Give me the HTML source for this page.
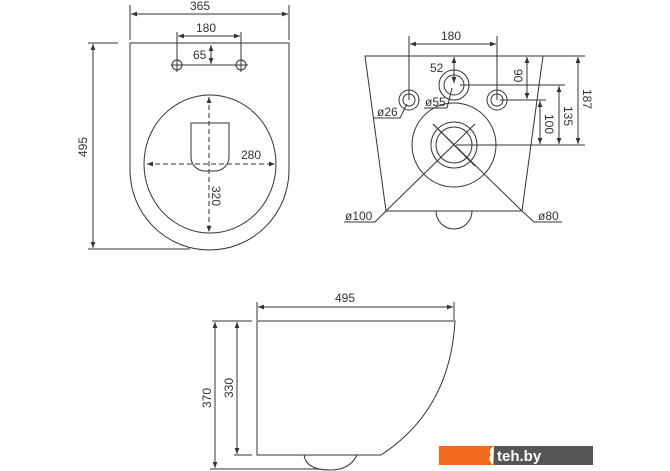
<!DOCTYPE html>
<html><head><meta charset="utf-8"><style>
html,body{margin:0;padding:0;background:#fff;}
svg{display:block;}
text{font-family:"Liberation Sans",sans-serif;font-size:12px;fill:#333;}
</style></head><body>
<svg width="670" height="471" viewBox="0 0 670 471" xmlns="http://www.w3.org/2000/svg">
<defs>
<marker id="a" viewBox="0 0 10 10" refX="10" refY="5" markerWidth="6" markerHeight="6" orient="auto-start-reverse"><path d="M0,1 L10,5 L0,9 z" fill="#333"/></marker>
</defs>
<g stroke="#333" stroke-width="1" fill="none">
<!-- Top view -->
<path d="M130,43 H289 V170 A79.5,80 0 0 1 130,170 Z"/>
<line x1="130" y1="5" x2="130" y2="40"/><line x1="289" y1="5" x2="289" y2="40"/>
<line x1="131" y1="14" x2="288" y2="14" marker-start="url(#a)" marker-end="url(#a)"/>
<line x1="177" y1="32" x2="177" y2="72"/><line x1="241" y1="32" x2="241" y2="72"/>
<line x1="178" y1="36" x2="240" y2="36" marker-start="url(#a)" marker-end="url(#a)"/>
<circle cx="177" cy="65" r="5"/><circle cx="241" cy="65" r="5"/>
<line x1="171" y1="65" x2="248" y2="65"/>
<line x1="211" y1="45" x2="211" y2="64" marker-start="url(#a)" marker-end="url(#a)"/>
<ellipse cx="210" cy="164" rx="66" ry="69"/>
<path d="M191,123 H229 V157 A14,14 0 0 1 215,171 H205 A14,14 0 0 1 191,157 Z"/>
<line x1="147" y1="164" x2="275" y2="164" stroke-dasharray="5,3" marker-start="url(#a)" marker-end="url(#a)"/>
<line x1="209" y1="97" x2="209" y2="232" stroke-dasharray="5,3" marker-start="url(#a)" marker-end="url(#a)"/>
<line x1="88" y1="43" x2="118" y2="43"/><line x1="88" y1="249" x2="190" y2="249"/>
<line x1="93" y1="44" x2="93" y2="248" marker-start="url(#a)" marker-end="url(#a)"/>
<!-- Rear view -->
<path d="M365,56 H543 L522,211 H386 Z"/>
<line x1="409" y1="36" x2="409" y2="100"/><line x1="497" y1="36" x2="497" y2="100"/>
<line x1="410" y1="44" x2="496" y2="44" marker-start="url(#a)" marker-end="url(#a)"/>
<circle cx="409" cy="100" r="10"/><circle cx="409" cy="100" r="6"/>
<circle cx="497" cy="100" r="10"/><circle cx="497" cy="100" r="6"/>
<circle cx="454" cy="85" r="15"/><circle cx="454" cy="85" r="10"/>
<line x1="454" y1="57" x2="454" y2="83" marker-start="url(#a)" marker-end="url(#a)"/>
<path d="M452,88 L447,108 H424"/>
<path d="M407,104 L400,118 H373"/>
<circle cx="454" cy="145" r="42"/><circle cx="454" cy="145" r="23"/><circle cx="454" cy="145" r="18"/>
<line x1="433" y1="124" x2="475" y2="166"/><line x1="475" y1="124" x2="386" y2="211"/>
<line x1="433" y1="124" x2="522" y2="211"/>
<path d="M386,211 L375,222 H344"/><path d="M522,211 L534,222 H562"/>
<path d="M436,211 A18,18 0 0 0 472,211"/>
<line x1="500" y1="100" x2="546" y2="100"/>
<line x1="460" y1="85" x2="565" y2="85"/>
<line x1="456" y1="145" x2="585" y2="145"/>
<line x1="543" y1="56" x2="585" y2="56"/>
<line x1="527" y1="57" x2="527" y2="99" marker-start="url(#a)" marker-end="url(#a)"/>
<line x1="540" y1="101" x2="540" y2="144" marker-start="url(#a)" marker-end="url(#a)"/>
<line x1="559" y1="86" x2="559" y2="144" marker-start="url(#a)" marker-end="url(#a)"/>
<line x1="578" y1="57" x2="578" y2="144" marker-start="url(#a)" marker-end="url(#a)"/>
<!-- Side view -->
<line x1="257" y1="302" x2="257" y2="320"/><line x1="454" y1="302" x2="454" y2="320"/>
<line x1="258" y1="307" x2="453" y2="307" marker-start="url(#a)" marker-end="url(#a)"/>
<path d="M257,321 H455 Q450,410 381,455 H257 Z"/>
<path d="M304,455 Q306,470 330,470 Q350,470 357,455"/>
<line x1="212" y1="321" x2="252" y2="321"/><line x1="234" y1="455" x2="252" y2="455"/>
<line x1="210" y1="469" x2="320" y2="469"/>
<line x1="215" y1="322" x2="215" y2="468" marker-start="url(#a)" marker-end="url(#a)"/>
<line x1="237" y1="322" x2="237" y2="454" marker-start="url(#a)" marker-end="url(#a)"/>
</g>
<text x="190" y="10">365</text>
<text x="196" y="32">180</text>
<text x="193" y="59">65</text>
<text x="241" y="159">280</text>
<text transform="translate(212,186) rotate(90)">320</text>
<text transform="translate(87,157) rotate(-90)">495</text>
<text x="441" y="40">180</text>
<text x="430" y="72">52</text>
<text x="425" y="106">ø55</text>
<text x="377" y="116">ø26</text>
<text x="345" y="220">ø100</text>
<text x="538" y="220">ø80</text>
<text transform="translate(514,69) rotate(90)">90</text>
<text transform="translate(545,114) rotate(90)">100</text>
<text transform="translate(564,106) rotate(90)">135</text>
<text transform="translate(583,89) rotate(90)">187</text>
<text x="335" y="302">495</text>
<text transform="translate(211,408) rotate(-90)">370</text>
<text transform="translate(233,398) rotate(-90)">330</text>
<rect x="439" y="446" width="55" height="19" fill="#f26a1b"/>
<rect x="494" y="446" width="99" height="19" fill="#555"/>
<path d="M494,446 q-6,4 -3,9 q-4,4 2,10 z" fill="#fff"/>
<text x="497" y="461" style="fill:#fff;font-size:15px;font-weight:bold">teh.by</text>
</svg>
</body></html>
